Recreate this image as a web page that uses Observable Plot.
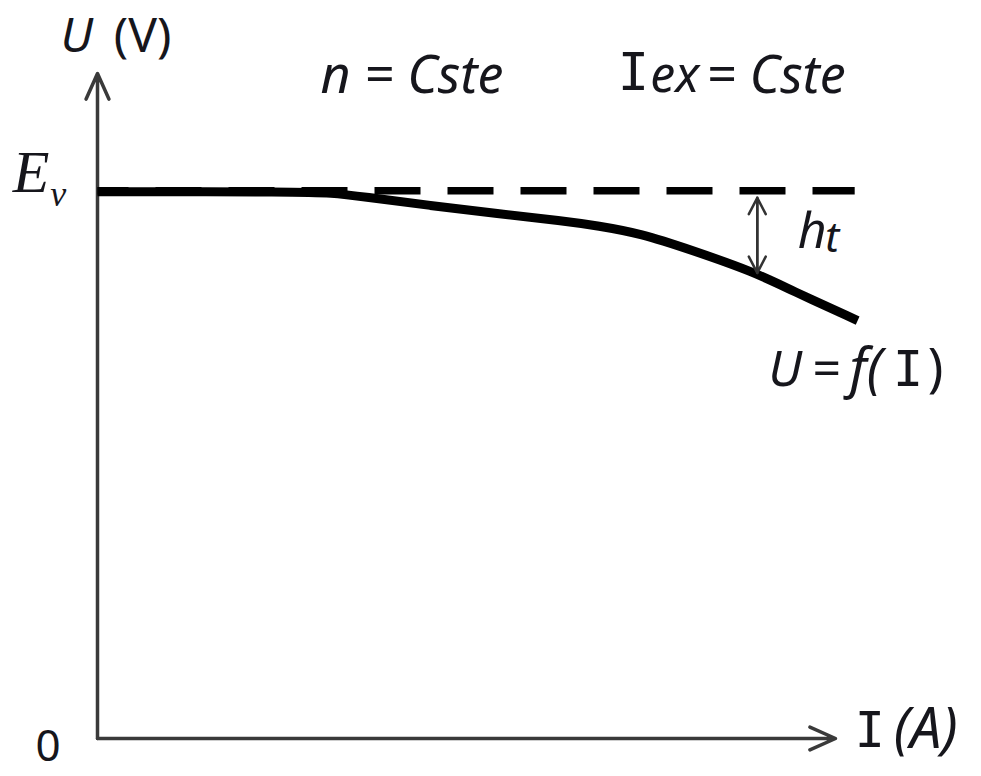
<!DOCTYPE html>
<html>
<head>
<meta charset="utf-8">
<script src="https://cdn.jsdelivr.net/npm/d3@7"></script>
<script src="https://cdn.jsdelivr.net/npm/@observablehq/plot@0.6"></script>
<style>
  html, body { margin: 0; padding: 0; background: #fff; }
  #chart svg { display: block; }
</style>
</head>
<body>
<div id="chart"></div>
<script>
// Generator external characteristic U = f(I) at constant speed and excitation
const current = [0, 27.5, 31.6, 36.0, 45.1, 54.2, 63.1, 67.8, 73.6, 80.4, 88.9, 93.9, 103.0]; // I (A)
const voltage = [99.8, 99.8, 99.6, 98.9, 97.3, 95.8, 94.5, 93.6, 92.2, 89.2, 85.2, 81.9, 76.3]; // U (V)
const Ev = 100;          // no-load EMF
const dashEnd = 102.6;   // extent of the E_v reference line
const htAt = 89.4;       // current where the drop h_t is marked
const htTop = 98.7;
const htBottom = 85.0;

const xMax = 100, yMax = 121.4;

const points = current.map((I, i) => ({I, U: voltage[i]}));

const ink = "#16161c";
const sans = "Noto Sans";
const serifI = "DejaVu Sans Mono";

function label(text, x, y, opts = {}) {
  return Plot.text([{text, x, y}], {
    x: "x", y: "y", text: "text",
    textAnchor: "start", lineAnchor: "middle",
    fill: ink, fontFamily: sans, fontSize: 52,
    ...opts
  });
}

const chart = Plot.plot({
  width: 981,
  height: 776,
  marginLeft: 97,
  marginRight: 146,
  marginTop: 73,
  marginBottom: 38,
  x: {domain: [0, xMax], axis: null},
  y: {domain: [0, yMax], axis: null},
  style: {background: "white", overflow: "visible"},
  marks: [
    // axes with arrowheads
    Plot.arrow([{x1: 0, y1: 0, x2: 0, y2: yMax}], {
      x1: "x1", y1: "y1", x2: "x2", y2: "y2",
      stroke: "#3a3a3a", strokeWidth: 3.5, headLength: 12, headAngle: 48
    }),
    Plot.arrow([{x1: 0, y1: 0, x2: xMax, y2: 0}], {
      x1: "x1", y1: "y1", x2: "x2", y2: "y2",
      stroke: "#3a3a3a", strokeWidth: 3.5, headLength: 12, headAngle: 48
    }),
    // E_v reference (dashed)
    Plot.line([{I: 0, U: Ev}, {I: dashEnd, U: Ev}], {
      x: "I", y: "U", stroke: "black", strokeWidth: 7.5,
      strokeDasharray: "46 27", strokeDashoffset: 15, strokeLinecap: "butt"
    }),
    // characteristic curve
    Plot.line(points, {
      x: "I", y: "U", stroke: "black", strokeWidth: 9,
      curve: "basis", strokeLinecap: "butt"
    }),
    // voltage drop h_t (double-headed arrow)
    Plot.arrow([{x1: htAt, y1: htBottom, x2: htAt, y2: htTop},
                {x1: htAt, y1: htTop, x2: htAt, y2: htBottom}], {
      x1: "x1", y1: "y1", x2: "x2", y2: "y2",
      stroke: "#333", strokeWidth: 2.5, headLength: 11, headAngle: 55
    }),
    // labels
    label("U", -5.0, 128.2, {fontStyle: "italic", fontSize: 48}),
    label("(V)", 2.2, 128.2, {fontSize: 48}),
    label("E", -11.5, 103.3, {fontFamily: "Liberation Serif", fontStyle: "italic", fontSize: 60}),
    label("v", -6.4, 99.4, {fontFamily: "Liberation Serif", fontStyle: "italic", fontSize: 36}),
    label("n = Cste", 30.2, 120.8, {fontStyle: "italic"}),
    label("I", 70.5, 121.4, {fontFamily: serifI, fontSize: 52}),
    label("ex", 74.9, 121.0, {fontStyle: "italic", fontSize: 50}),
    label("= Cste", 82.5, 120.8, {fontStyle: "italic"}),
    label("h", 94.9, 92.4, {fontStyle: "italic", fontSize: 50}),
    label("t", 98.6, 91.2, {fontStyle: "italic", fontSize: 42}),
    label("U", 90.9, 67.3, {fontStyle: "italic", fontSize: 50}),
    label("=", 96.9, 67.3, {fontSize: 50}),
    label("f(", 101.9, 67.3, {fontStyle: "italic", fontSize: 54}),
    label("I", 107.8, 67.3, {fontFamily: serifI, fontSize: 50}),
    label(")", 112.5, 67.3, {fontSize: 52}),
    label("I", 102.6, 1.46, {fontFamily: serifI, fontSize: 50}),
    label("(A)", 107.9, 1.46, {fontStyle: "italic", fontSize: 56}),
    label("0", -8.4, -1.6, {fontSize: 44})
  ]
});

document.getElementById("chart").append(chart);
</script>
</body>
</html>
